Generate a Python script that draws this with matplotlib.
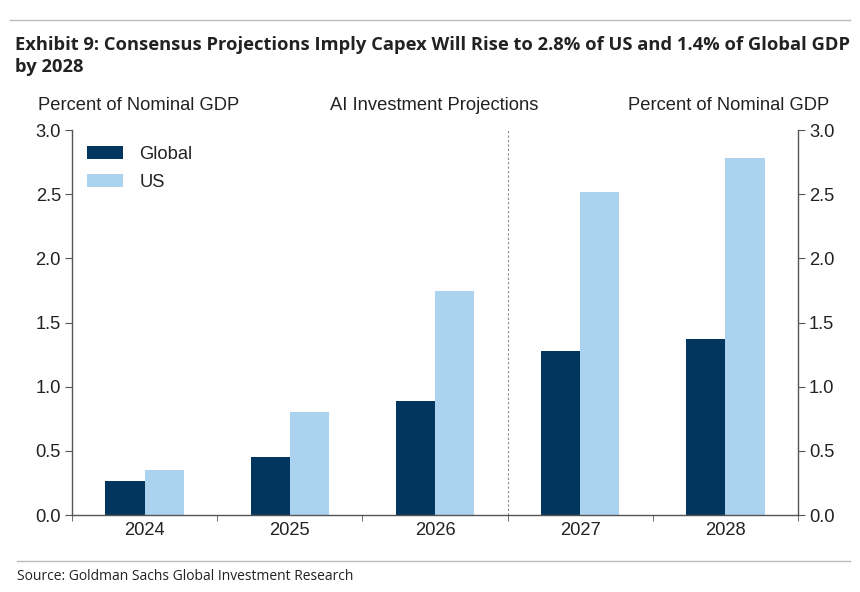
import matplotlib
matplotlib.use("Agg")
import matplotlib.pyplot as plt
import numpy as np
from matplotlib.lines import Line2D

years = ["2024", "2025", "2026", "2027", "2028"]
global_vals = [0.265, 0.455, 0.885, 1.275, 1.375]
us_vals = [0.35, 0.805, 1.745, 2.52, 2.78]
yticks = [0.0, 0.5, 1.0, 1.5, 2.0, 2.5, 3.0]

navy = "#02365E"
light = "#ABD3F0"
gray_txt = "#222222"
axis_col = "#555555"
fs = 13.2

W, H = 860, 592
fig = plt.figure(figsize=(W/100, H/100), dpi=100)

ax = fig.add_axes([72/W, 1-515/H, (798-72)/W, (515-130)/H])
x = np.arange(len(years))
bw = 0.27
ax.bar(x - bw/2, global_vals, bw, color=navy, label="Global")
ax.bar(x + bw/2, us_vals, bw, color=light, label="US")
ax.set_xlim(-0.5, len(years) - 0.5)
ax.set_ylim(0, 3.0)
ax.set_yticks(yticks)
ax.set_yticklabels([f"{v:.1f}" for v in yticks])
ax.set_xticks(x)
ax.set_xticklabels(years)
ax.set_xticks(np.arange(len(years)+1) - 0.5, minor=True)
ax.tick_params(axis="x", which="major", length=0, pad=5, labelsize=fs, labelcolor=gray_txt)
ax.tick_params(axis="x", which="minor", length=4, direction="out", color=axis_col)
ax.tick_params(axis="y", length=5, color=axis_col, labelsize=fs, labelcolor=gray_txt, pad=3,
               left=True, right=True, labelleft=True, labelright=True)
ax.spines["top"].set_visible(False)
for s in ["left", "right", "bottom"]:
    ax.spines[s].set_color(axis_col)
    ax.spines[s].set_linewidth(1.0)
for t in ax.xaxis.get_major_ticks():
    t.label1.set_family("Liberation Sans")
for t in ax.yaxis.get_major_ticks():
    t.label1.set_family("Liberation Sans")
    t.label2.set_family("Liberation Sans")

# dashed divider between actual and projection
ax.axvline(2.5, color="#888888", lw=0.8, ls=(0, (2, 2)))

leg = ax.legend(loc="upper left", frameon=False, bbox_to_anchor=(-0.002, 1.002),
                prop={"family": "Liberation Sans", "size": fs}, handlelength=1.95,
                handleheight=0.75, handletextpad=0.9, labelspacing=0.6)
for t in leg.get_texts():
    t.set_color(gray_txt)

# header texts
fig.text(38/W, 1-106/H, "Percent of Nominal GDP", family="Liberation Sans", size=fs,
         color=gray_txt, va="center", ha="left")
fig.text(434/W, 1-106/H, "AI Investment Projections", family="Liberation Sans", size=fs,
         color=gray_txt, va="center", ha="center")
fig.text(829/W, 1-106/H, "Percent of Nominal GDP", family="Liberation Sans", size=fs,
         color=gray_txt, va="center", ha="right")

fig.text(15/W, 1-45/H, "Exhibit 9: Consensus Projections Imply Capex Will Rise to 2.8% of US and 1.4% of Global GDP",
         family="Open Sans", weight="bold", size=13.2, color="#222222", va="center", ha="left")
fig.text(15/W, 1-67/H, "by 2028", family="Open Sans", weight="bold", size=13.2,
         color="#222222", va="center", ha="left")
fig.text(17/W, 1-577/H, "Source: Goldman Sachs Global Investment Research", family="Open Sans",
         size=10, color="#222222", va="center", ha="left")

fig.add_artist(Line2D([10/W, 850/W], [1-20/H, 1-20/H], color="#BBBBBB", lw=1.0))
fig.add_artist(Line2D([17/W, 850/W], [1-561/H, 1-561/H], color="#BBBBBB", lw=1.0))

fig.savefig("out.png", dpi=100, facecolor="white")
